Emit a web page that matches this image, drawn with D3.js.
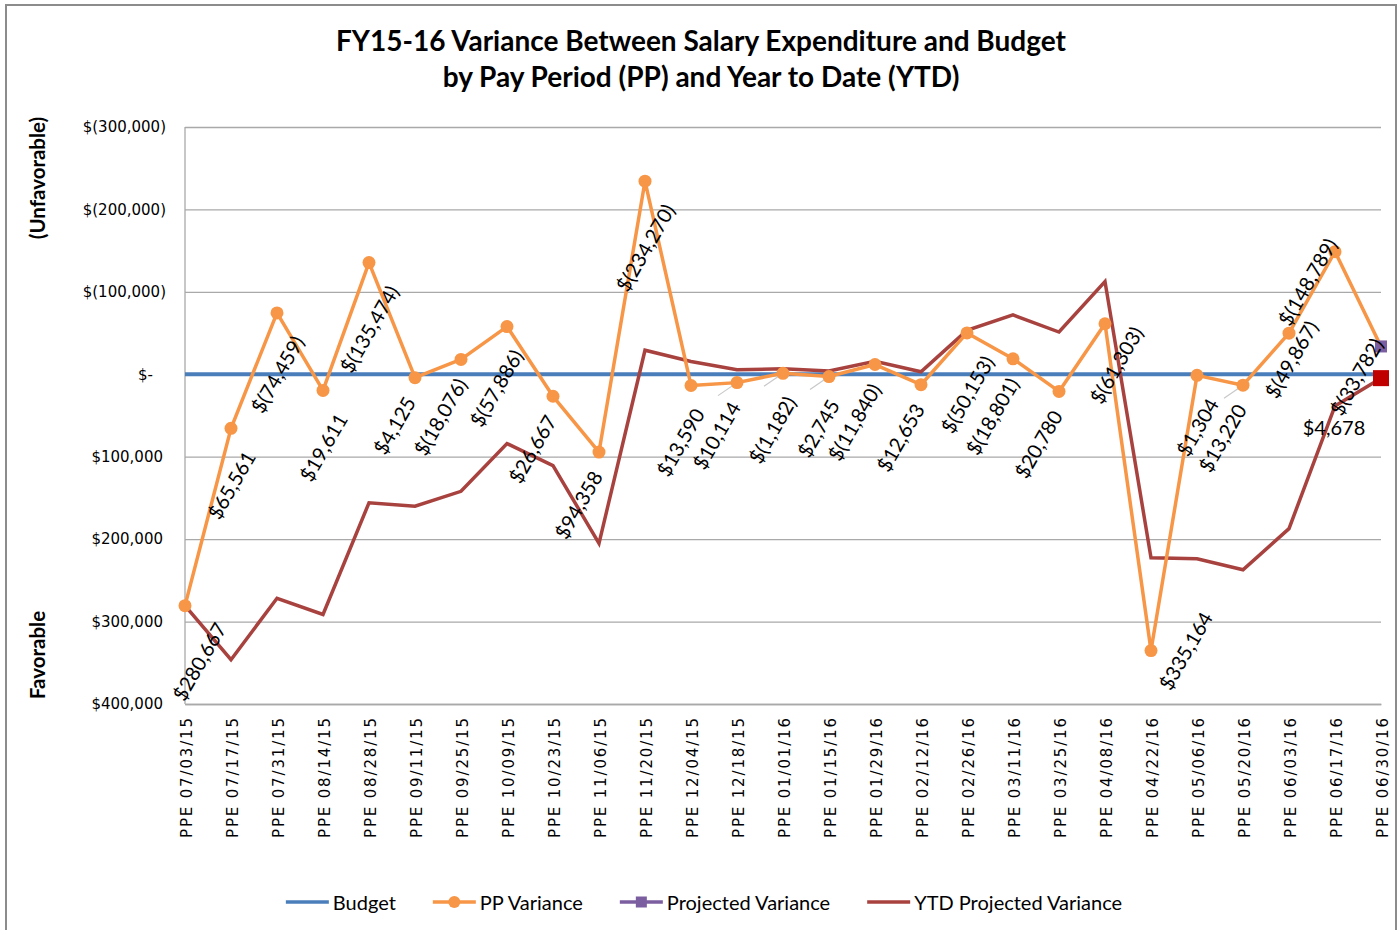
<!DOCTYPE html>
<html>
<head>
<meta charset="utf-8">
<script src="https://cdn.jsdelivr.net/npm/d3@7"></script>
<style>
  body { margin: 0; background: #fff; }
  svg { display: block; }
</style>
</head>
<body>
<div id="chart"></div>
<script>
// Pay period end dates
const categories = [
    "PPE 07/03/15", "PPE 07/17/15", "PPE 07/31/15", "PPE 08/14/15", "PPE 08/28/15",
    "PPE 09/11/15", "PPE 09/25/15", "PPE 10/09/15", "PPE 10/23/15", "PPE 11/06/15",
    "PPE 11/20/15", "PPE 12/04/15", "PPE 12/18/15", "PPE 01/01/16", "PPE 01/15/16",
    "PPE 01/29/16", "PPE 02/12/16", "PPE 02/26/16", "PPE 03/11/16", "PPE 03/25/16",
    "PPE 04/08/16", "PPE 04/22/16", "PPE 05/06/16", "PPE 05/20/16", "PPE 06/03/16",
    "PPE 06/17/16", "PPE 06/30/16"
];

// Negative = unfavorable (plotted upward), positive = favorable
const ppVariance = [
    280667, 65561, -74459, 19611, -135474, 4125, -18076, -57886, 26667, 94358,
    -234270, 13590, 10114, -1182, 2745, -11840, 12653, -50153, -18801, 20780,
    -61303, 335164, 1304, 13220, -49867, -148789, -33782
];

const ytdVariance = [
    280667, 346228, 271769, 291380, 155906, 160031, 141955, 84069, 110736, 205094,
    -29176, -15586, -5472, -6654, -3909, -15749, -3096, -53249, -72050, -51270,
    -112573, 222591, 223895, 237115, 187248, 38459, 4678
];

const budgetLevel = 0;
const projectedCategory = "PPE 06/30/16";
const projectedVariance = -33782;

const yTicks = [-300000, -200000, -100000, 0, 100000, 200000, 300000, 400000];

// where each PP data label sits relative to its point
const labelPlacement = [
    "belowRight", "below", "below", "below", "below", "belowLeft", "belowLeft", "belowMid", "belowLeft", "belowLeft",
    "below", "belowMid", "belowLeft", "belowMid", "belowMid", "belowLeft", "belowLeft", "below", "belowLeft", "belowLeft",
    "high", "right", "below", "belowLeft", "near", "left", "left"
];
// labels that were dragged away and show a leader line
const leaderIdx = [12, 13, 14, 23];

const seriesNames = ["Budget", "PP Variance", "Projected Variance", "YTD Projected Variance"];

// Colours
const colBudget = "#4a7ebb";
const colPP = "#f79646";
const colProj = "#7b5ea0";
const colYTD = "#a8423f";
const colYTDEnd = "#c00000";
const colGrid = "#a9a9a9";

const W = 1400, H = 930;
const plot = { left: 185, right: 1381, top: 127, bottom: 704 };
const labelFont = "Lato, 'Open Sans', sans-serif";
const axisFont = "'DejaVu Sans', Verdana, sans-serif";

const svg = d3.select("#chart").append("svg")
    .attr("width", W)
    .attr("height", H);

// outer chart border
svg.append("rect")
    .attr("x", 6).attr("y", 5)
    .attr("width", 1390).attr("height", 940)
    .attr("fill", "#fff")
    .attr("stroke", "#8c8c8c")
    .attr("stroke-width", 2);

// Title
const title = svg.append("g")
    .attr("font-family", labelFont)
    .attr("font-weight", "bold")
    .attr("font-size", 28)
    .attr("text-anchor", "middle")
    .attr("fill", "#000");
title.append("text").attr("x", 701).attr("y", 51)
    .text("FY15-16 Variance Between Salary Expenditure and Budget");
title.append("text").attr("x", 701).attr("y", 87)
    .text("by Pay Period (PP) and Year to Date (YTD)");

// Scales
const x = d3.scalePoint()
    .domain(categories)
    .range([plot.left, plot.right]);

const y = d3.scaleLinear()
    .domain([-300000, 400000])
    .range([plot.top, plot.bottom]);

const num = d3.format(",");
function money(v) {
    if (v === 0) return "$-";
    return v < 0 ? "$(" + num(-v) + ")" : "$" + num(v);
}

// Gridlines
svg.append("g")
    .attr("class", "grid")
    .attr("transform", `translate(${plot.left},0)`)
    .call(d3.axisLeft(y).tickValues(yTicks).tickSize(-(plot.right - plot.left)).tickFormat(""))
    .call(g => g.select(".domain").remove())
    .call(g => g.selectAll("line").attr("stroke", colGrid).attr("stroke-width", 1.3));

// Y axis line
svg.append("line")
    .attr("x1", plot.left).attr("x2", plot.left)
    .attr("y1", plot.top).attr("y2", plot.bottom)
    .attr("stroke", colGrid).attr("stroke-width", 1.3);

// Y axis labels (accounting style alignment)
const yAxis = svg.append("g")
    .attr("transform", `translate(${plot.left},0)`)
    .call(d3.axisLeft(y).tickValues(yTicks).tickSize(0).tickPadding(19).tickFormat(money));
yAxis.select(".domain").remove();
yAxis.selectAll("text")
    .attr("font-family", axisFont)
    .attr("font-size", 15)
    .attr("fill", "#000")
    .attr("dx", d => d === 0 ? -13 : (d > 0 ? -3 : 0));

// X axis labels
const xAxis = svg.append("g")
    .attr("transform", `translate(0,${plot.bottom})`)
    .call(d3.axisBottom(x).tickSize(0).tickPadding(0));
xAxis.select(".domain")
    .attr("stroke", colGrid).attr("stroke-width", 1.3);
xAxis.selectAll("text")
    .attr("font-family", axisFont)
    .attr("font-size", 15)
    .attr("fill", "#000")
    .attr("transform", "rotate(-90)")
    .attr("text-anchor", "end")
    .attr("x", -14)
    .attr("y", 1)
    .attr("dy", "0.35em")
    .attr("textLength", 120)
    .attr("lengthAdjust", "spacing");

// Side captions
const side = svg.append("g")
    .attr("font-family", labelFont)
    .attr("font-weight", "bold")
    .attr("font-size", 20.5)
    .attr("text-anchor", "middle");
side.append("text")
    .attr("transform", "translate(45,178) rotate(-90)")
    .text("(Unfavorable)");
side.append("text")
    .attr("transform", "translate(45,655) rotate(-90)")
    .text("Favorable");

// Budget line
svg.append("line")
    .attr("x1", x(categories[0])).attr("x2", x(categories[categories.length - 1]))
    .attr("y1", y(budgetLevel)).attr("y2", y(budgetLevel))
    .attr("stroke", colBudget)
    .attr("stroke-width", 4);

// YTD line
const line = d3.line()
    .x((d, i) => x(categories[i]))
    .y(d => y(d));

svg.append("path")
    .datum(ytdVariance)
    .attr("d", line)
    .attr("fill", "none")
    .attr("stroke", colYTD)
    .attr("stroke-width", 3.5)
    .attr("stroke-linejoin", "miter");

// PP variance line
svg.append("path")
    .datum(ppVariance)
    .attr("d", line)
    .attr("fill", "none")
    .attr("stroke", colPP)
    .attr("stroke-width", 3.5)
    .attr("stroke-linejoin", "round");

// Leader lines for moved labels
svg.append("g")
    .selectAll("line")
    .data(leaderIdx)
    .enter()
    .append("line")
    .attr("x1", i => x(categories[i]))
    .attr("y1", i => y(ppVariance[i]))
    .attr("x2", i => x(categories[i]) - 19)
    .attr("y2", i => y(ppVariance[i]) + 13)
    .attr("stroke", "#c8c8c8")
    .attr("stroke-width", 1.2);

// PP markers (last point is covered by projected marker)
svg.append("g")
    .selectAll("circle")
    .data(ppVariance.slice(0, -1))
    .enter()
    .append("circle")
    .attr("cx", (d, i) => x(categories[i]))
    .attr("cy", d => y(d))
    .attr("r", 6.5)
    .attr("fill", colPP);

// Projected variance marker
svg.append("rect")
    .attr("x", x(projectedCategory) - 6)
    .attr("y", y(projectedVariance) - 6)
    .attr("width", 12).attr("height", 12)
    .attr("fill", colProj);

// YTD end marker
const lastIdx = ytdVariance.length - 1;
svg.append("rect")
    .attr("x", x(categories[lastIdx]) - 8)
    .attr("y", y(ytdVariance[lastIdx]) - 8)
    .attr("width", 16).attr("height", 16)
    .attr("fill", colYTDEnd);

// PP data labels, rotated
const labelG = svg.append("g")
    .attr("font-family", labelFont)
    .attr("font-size", 20)
    .attr("fill", "#000");

ppVariance.forEach((v, i) => {
    const px = x(categories[i]);
    const py = y(v);
    const t = labelG.append("text")
        .attr("text-anchor", "middle")
        .attr("dominant-baseline", "central")
        .text(money(v));
    const L = t.node().getComputedTextLength();
    const h = 18;
    const boxW = 0.5 * L + 0.866 * h;
    const boxH = 0.866 * L + 0.5 * h;
    let cx = px, cy = py + 20 + boxH / 2;
    const p = labelPlacement[i];
    if (p === "belowRight") { cx = px + 14; cy = py + 14 + boxH / 2; }
    else if (p === "belowMid") { cx = px - 11; }
    else if (p === "belowLeft") { cx = px - 21; cy = py + 16 + boxH / 2; }
    else if (p === "high") { cx = px + 11; cy = py + 41; }
    else if (p === "right") { cx = px + 5 + boxW / 2; cy = py; }
    else if (p === "near") { cx = px + 2; cy = py + 26; }
    else if (p === "left") { cx = px - boxW / 2 + 4; cy = py + 30; }
    t.attr("transform", `translate(${cx},${cy}) rotate(-60)`);
});

// YTD end label
labelG.append("text")
    .attr("x", x(categories[lastIdx]) - 47)
    .attr("y", y(ytdVariance[lastIdx]) + 49)
    .attr("text-anchor", "middle")
    .attr("dominant-baseline", "central")
    .text(money(ytdVariance[lastIdx]));

// Legend
const legend = svg.append("g")
    .attr("font-family", labelFont)
    .attr("font-size", 20)
    .attr("fill", "#000");

const legendColors = [colBudget, colPP, colProj, colYTD];
const legendMarkers = [null, "circle", "square", null];
let lx = 0;
const items = [];
seriesNames.forEach((name, i) => {
    const g = legend.append("g");
    g.append("line")
        .attr("x1", 0).attr("x2", 43)
        .attr("y1", 0).attr("y2", 0)
        .attr("stroke", legendColors[i])
        .attr("stroke-width", 3.5);
    if (legendMarkers[i] === "circle") {
        g.append("circle").attr("cx", 21.5).attr("cy", 0).attr("r", 6).attr("fill", legendColors[i]);
    } else if (legendMarkers[i] === "square") {
        g.append("rect").attr("x", 16).attr("y", -5.5).attr("width", 11).attr("height", 11).attr("fill", legendColors[i]);
    }
    const t = g.append("text")
        .attr("x", 47).attr("y", 0)
        .attr("dominant-baseline", "central")
        .text(name);
    const w = 47 + t.node().getComputedTextLength();
    items.push({ g, offset: lx });
    lx += w + 37;
});
const legendWidth = lx - 37;
const legendStart = 704 - legendWidth / 2;
items.forEach(it => it.g.attr("transform", `translate(${legendStart + it.offset},902)`));
</script>
</body>
</html>
